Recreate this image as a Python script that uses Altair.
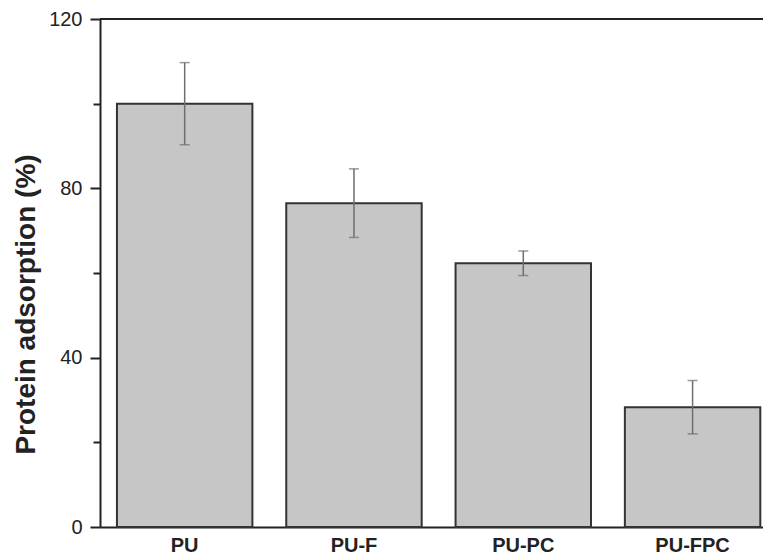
import altair as alt
import pandas as pd

categories = ["PU", "PU-F", "PU-PC", "PU-FPC"]
means = [100.0, 76.5, 62.3, 28.3]
errors = [9.7, 8.1, 2.9, 6.3]
y_ticks = [0, 20, 40, 60, 80, 100, 120]

df = pd.DataFrame({
    "cat": categories,
    "mean": means,
    "lo": [m - e for m, e in zip(means, errors)],
    "hi": [m + e for m, e in zip(means, errors)],
})

FONT = "Liberation Sans"
DARK = "#222222"

xscale = alt.Scale(domain=categories, paddingInner=0.2, paddingOuter=0.058, align=0.863)
yscale = alt.Scale(domain=[0, 120], nice=False)

x_enc = alt.X("cat:N", scale=xscale, sort=categories,
              axis=alt.Axis(title=None, labelAngle=0, ticks=False, labelFont=FONT,
                            labelFontSize=20, labelFontWeight="bold", labelColor=DARK,
                            labelPadding=8, domainColor=DARK, domainWidth=2, grid=False))

y_axis = alt.Axis(title="Protein adsorption (%)", values=y_ticks,
                  labelExpr="datum.value % 40 === 0 ? datum.label : ''",
                  tickSize=alt.ExprRef("datum.value % 40 === 0 ? 10 : 7"),
                  tickWidth=2, tickColor=DARK, domainColor=DARK, domainWidth=2,
                  labelFont=FONT, labelFontSize=20, labelColor=DARK, labelPadding=8,
                  titleFont=FONT, titleFontSize=28, titleFontWeight="bold", titleColor=DARK,
                  titleAngle=270, titleAlign="center", titleBaseline="middle",
                  titleX=-74, titleY=285, grid=False)

base = alt.Chart(df)

bars = base.mark_bar(fill="#c6c6c6", stroke="#333333", strokeWidth=2).encode(
    x=x_enc,
    y=alt.Y("mean:Q", scale=yscale, axis=y_axis),
)

err = base.mark_rule(color="#6e6e6e", size=1.5).encode(
    x=alt.X("cat:N", scale=xscale, sort=categories),
    y=alt.Y("lo:Q", scale=yscale),
    y2="hi:Q",
)

cap_hi = base.mark_tick(color="#6e6e6e", thickness=1.5, size=10).encode(
    x=alt.X("cat:N", scale=xscale, sort=categories),
    y=alt.Y("hi:Q", scale=yscale),
)
cap_lo = base.mark_tick(color="#6e6e6e", thickness=1.5, size=10).encode(
    x=alt.X("cat:N", scale=xscale, sort=categories),
    y=alt.Y("lo:Q", scale=yscale),
)

top = alt.Chart(pd.DataFrame({"v": [120]})).mark_rule(color=DARK, size=2).encode(
    y=alt.Y("v:Q", scale=yscale)
)

chart = alt.layer(bars, err, cap_hi, cap_lo, top).properties(
    width=663, height=508,
    autosize=alt.AutoSizeParams(type="none"),
    padding={"left": 92, "top": 11, "right": 0, "bottom": 33},
    background="white",
).configure_view(stroke=None)

chart.save("out.html", embed_options={"renderer": "svg", "actions": False})
